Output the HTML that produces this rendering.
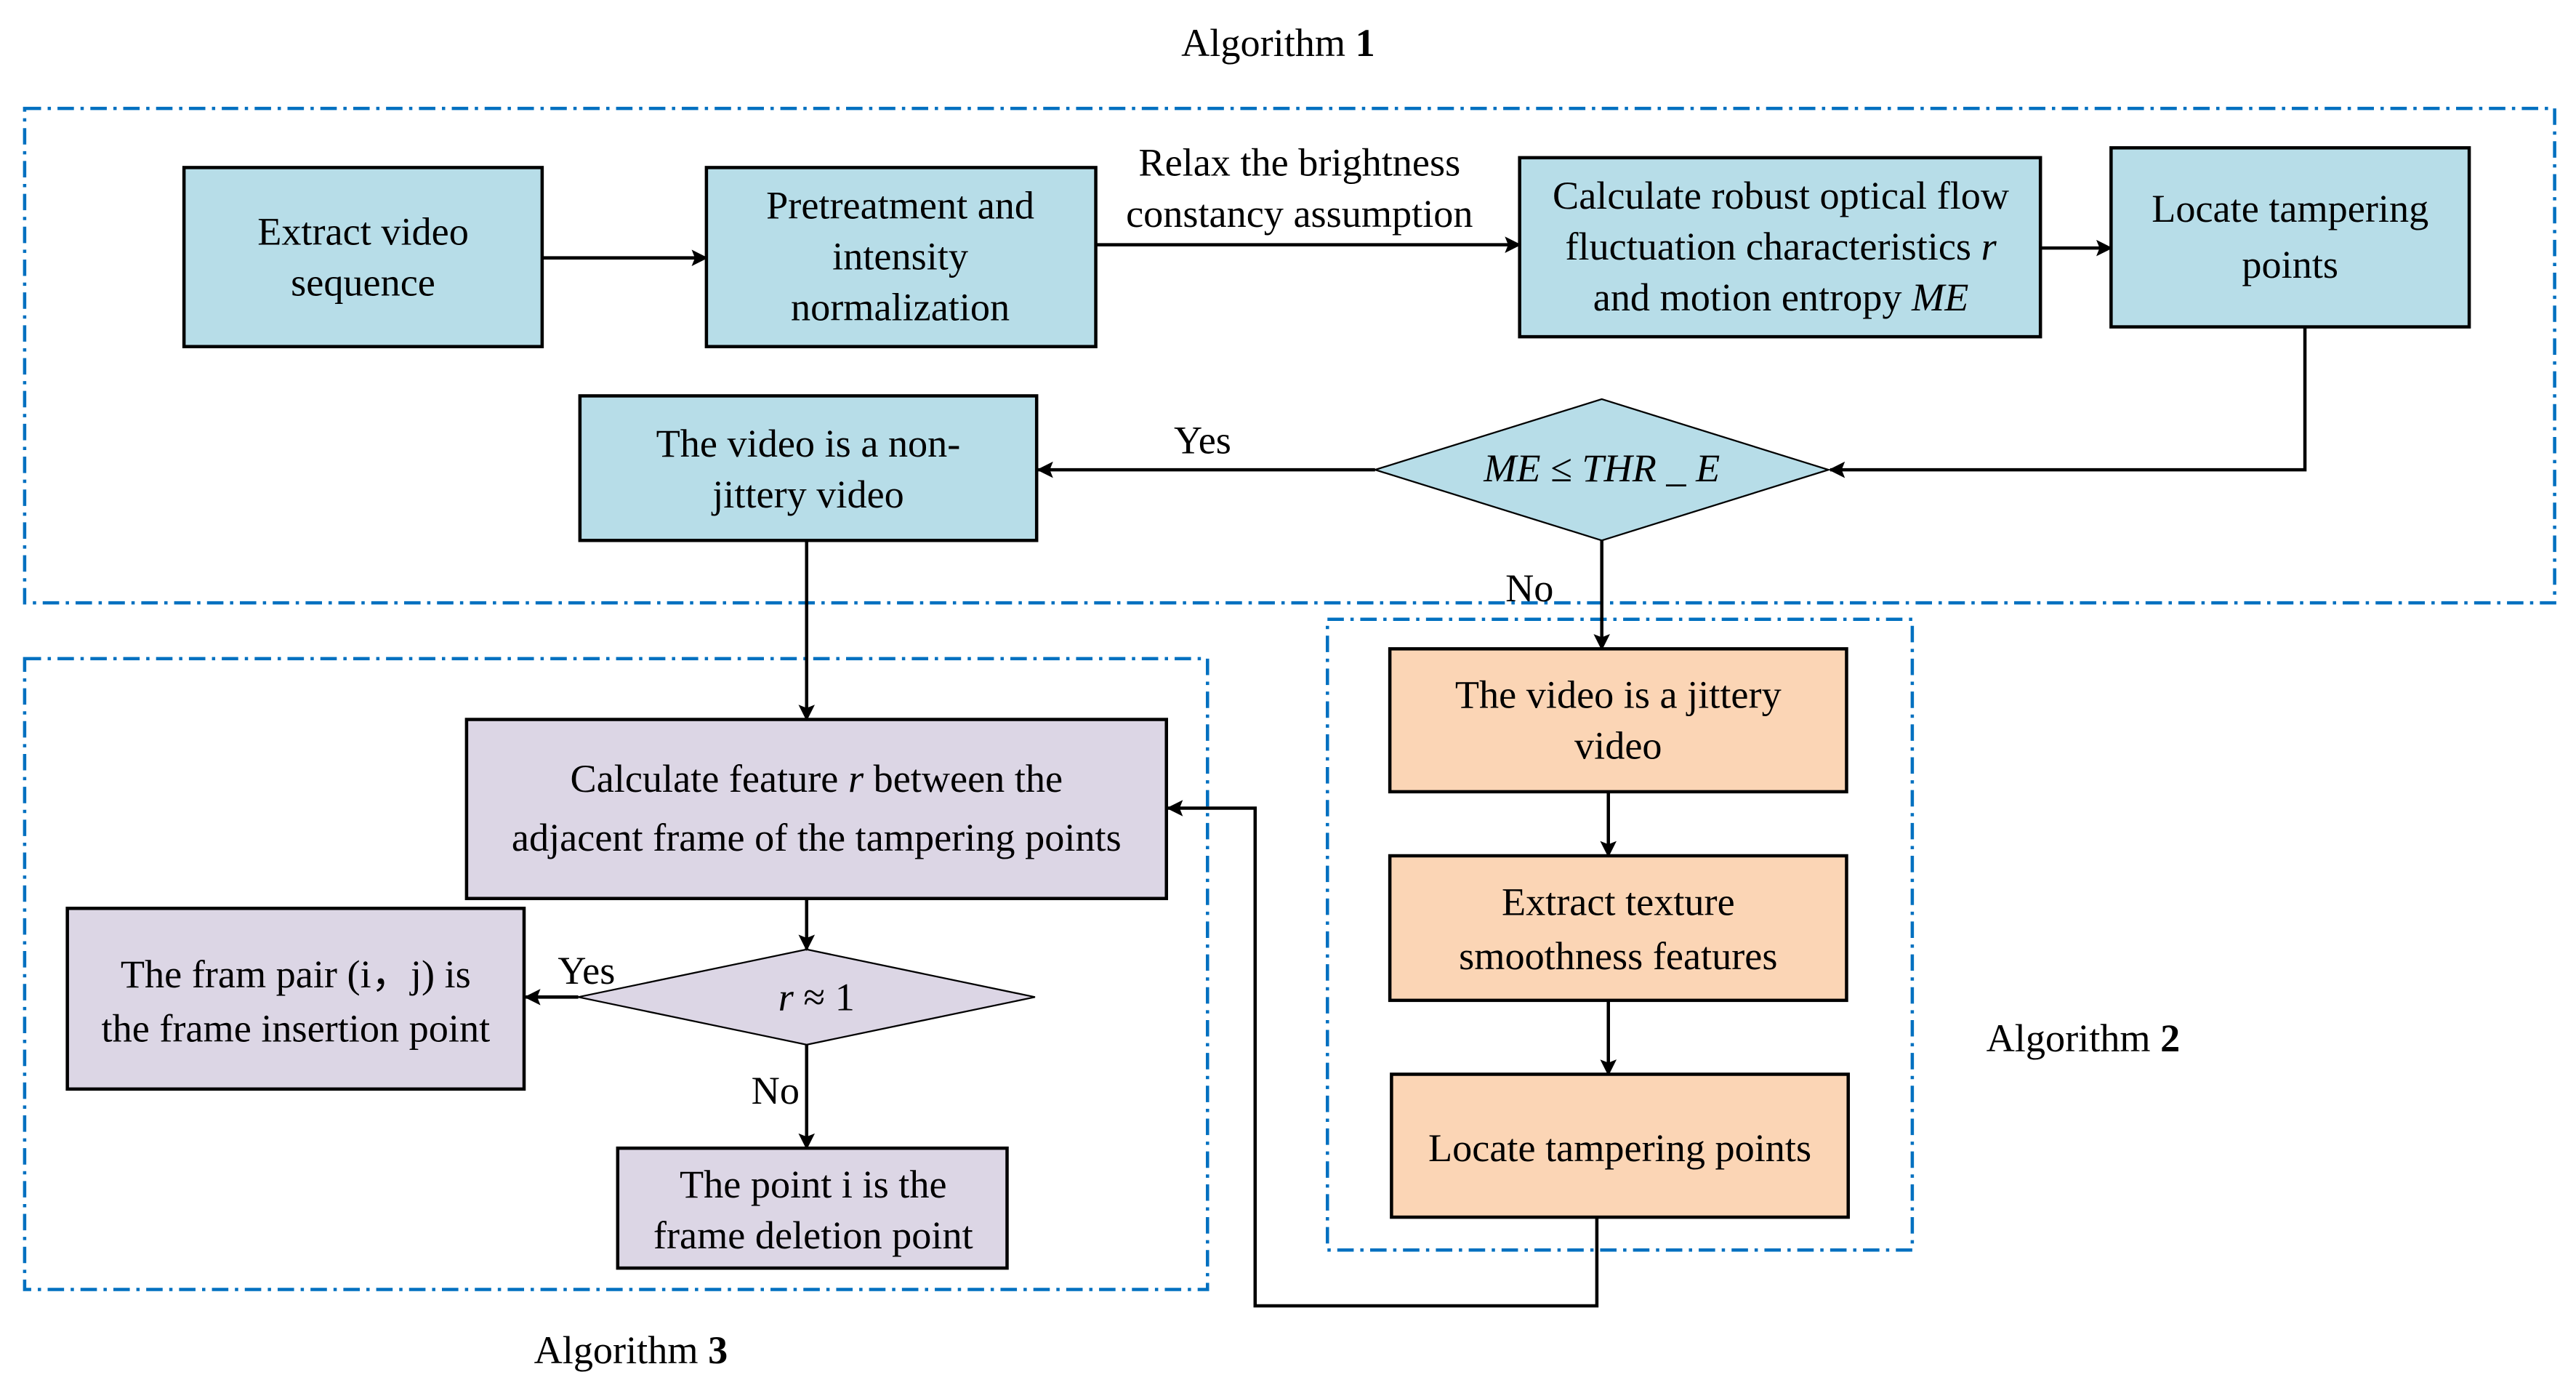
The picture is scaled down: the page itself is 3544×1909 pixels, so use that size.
<!DOCTYPE html>
<html><head><meta charset="utf-8"><style>html,body{margin:0;padding:0;background:#fff}svg{display:block}svg text{font-family:"Liberation Serif","Times New Roman",serif}</style></head>
<body>
<svg width="3544" height="1909" viewBox="0 0 1568 845" preserveAspectRatio="none" xmlns="http://www.w3.org/2000/svg" font-size="24" text-anchor="middle">
<defs>
<marker id="a" markerWidth="10" markerHeight="10" refX="9" refY="5" orient="auto" markerUnits="userSpaceOnUse"><path d="M0,0 L10,5 L0,10 L2,5 Z" fill="#000"/></marker>
</defs>
<g fill="none" stroke="#0070c0" stroke-width="2" stroke-dasharray="10,4,2,4">
<rect x="15" y="66" width="1540" height="301"/>
<rect x="808" y="377" width="356" height="384"/>
<rect x="15" y="401" width="720" height="384"/>
</g>
<text x="778" y="34">Algorithm <tspan font-weight="bold">1</tspan></text>
<text x="1268" y="640">Algorithm <tspan font-weight="bold">2</tspan></text>
<text x="384" y="830">Algorithm <tspan font-weight="bold">3</tspan></text>
<g stroke="#000" stroke-width="2">
<rect x="112" y="102" width="218" height="109" fill="#b7dde8"/>
<rect x="430" y="102" width="237" height="109" fill="#b7dde8"/>
<rect x="925" y="96" width="317" height="109" fill="#b7dde8"/>
<rect x="1285" y="90" width="218" height="109" fill="#b7dde8"/>
<rect x="353" y="241" width="278" height="88" fill="#b7dde8"/>
<rect x="846" y="395" width="278" height="87" fill="#fbd5b5"/>
<rect x="846" y="521" width="278" height="88" fill="#fbd5b5"/>
<rect x="847" y="654" width="278" height="87" fill="#fbd5b5"/>
<rect x="284" y="438" width="426" height="109" fill="#dcd6e5"/>
<rect x="41" y="553" width="278" height="110" fill="#dcd6e5"/>
<rect x="376" y="699" width="237" height="73" fill="#dcd6e5"/>
</g>
<g stroke="#000" stroke-width="1">
<polygon points="837,286 975,243 1113,286 975,329" fill="#b7dde8"/>
<polygon points="352,607 491,578 630,607 491,636" fill="#dcd6e5"/>
</g>
<g stroke="#000" stroke-width="2" fill="none" marker-end="url(#a)">
<path d="M330,157 H430"/>
<path d="M667,149 H925"/>
<path d="M1242,151 H1285"/>
<path d="M1403,199 V286 H1114"/>
<path d="M837,286 H632"/>
<path d="M975,329 V395"/>
<path d="M491,329 V438"/>
<path d="M979,482 V521"/>
<path d="M979,609 V654"/>
<path d="M972,741 V795 H764 V492 H711"/>
<path d="M491,547 V578"/>
<path d="M352,607 H320"/>
<path d="M491,636 V699"/>
</g>
<text x="221" y="149">Extract video</text>
<text x="221" y="180">sequence</text>
<text x="548" y="133">Pretreatment and</text>
<text x="548" y="164">intensity</text>
<text x="548" y="195">normalization</text>
<text x="791" y="107">Relax the brightness</text>
<text x="791" y="138">constancy assumption</text>
<text x="1084" y="127">Calculate robust optical flow</text>
<text x="1084" y="158">fluctuation characteristics <tspan font-style="italic">r</tspan></text>
<text x="1084" y="189">and motion entropy <tspan font-style="italic">ME</tspan></text>
<text x="1394" y="135">Locate tampering</text>
<text x="1394" y="169">points</text>
<text x="492" y="278">The video is a non-</text>
<text x="492" y="309">jittery video</text>
<text x="975" y="293" font-style="italic">ME ≤ THR _ E</text>
<text x="732" y="276">Yes</text>
<text x="931" y="366">No</text>
<text x="985" y="431">The video is a jittery</text>
<text x="985" y="462">video</text>
<text x="985" y="557">Extract texture</text>
<text x="985" y="590">smoothness features</text>
<text x="986" y="707">Locate tampering points</text>
<text x="497" y="482">Calculate feature <tspan font-style="italic">r</tspan> between the</text>
<text x="497" y="518">adjacent frame of the tampering points</text>
<text x="180" y="601">The fram pair (i，j) is</text>
<text x="180" y="634">the frame insertion point</text>
<text x="357" y="599">Yes</text>
<text x="497" y="615"><tspan font-style="italic">r</tspan> ≈ 1</text>
<text x="472" y="672">No</text>
<text x="495" y="729">The point i is the</text>
<text x="495" y="760">frame deletion point</text>
</svg>
</body></html>
